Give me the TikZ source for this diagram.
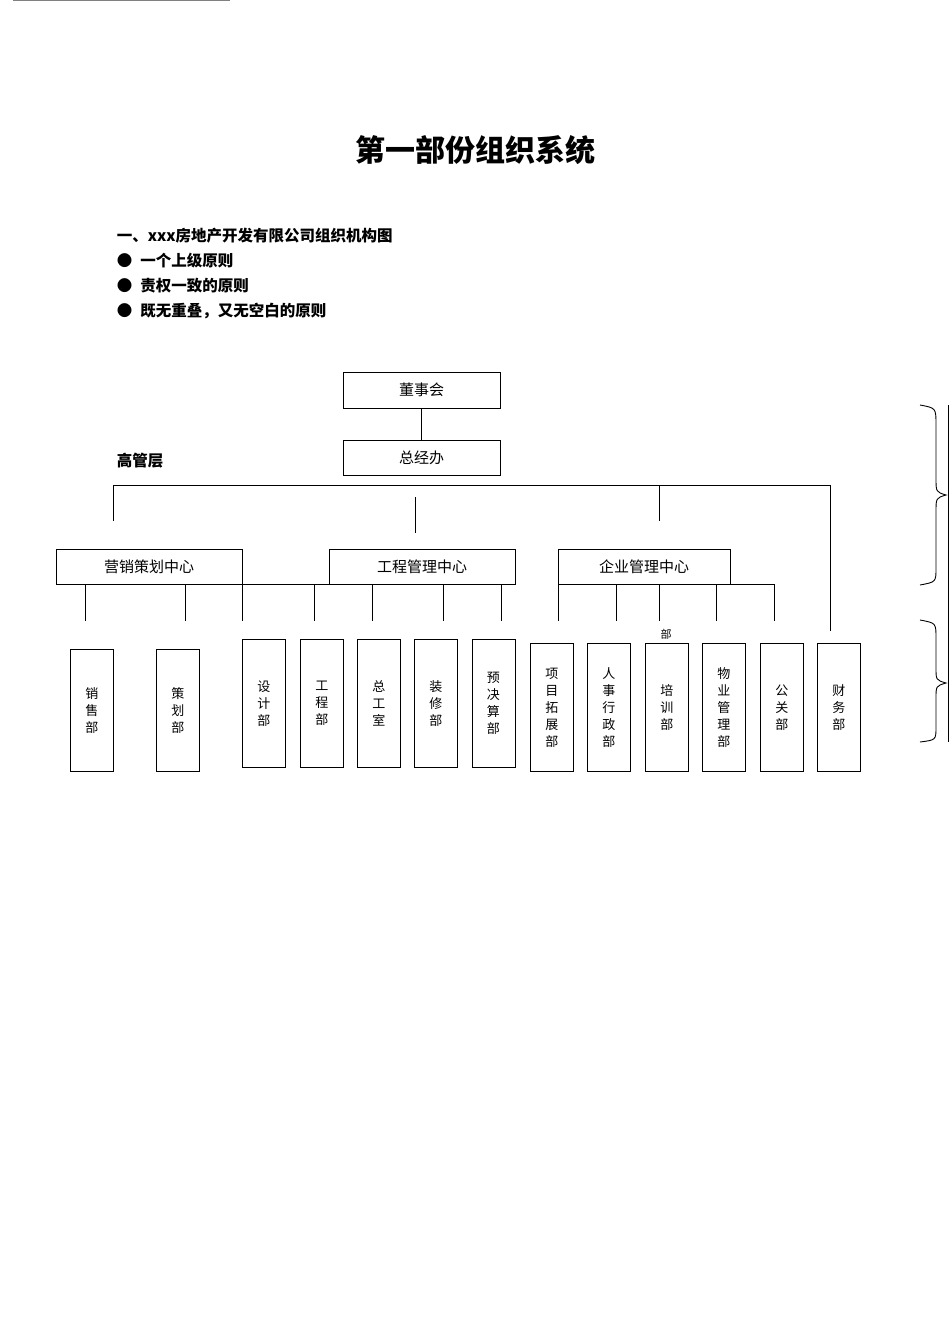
\documentclass[tikz,border=0pt]{standalone}
\usepackage{fontspec}
\newfontfamily\cjk{Noto Sans CJK SC}
\begin{document}
\begin{tikzpicture}[x=1pt,y=-1pt,line width=0.9pt,
 box/.style={draw,minimum width=#1,inner sep=0pt,font=\cjk\fontsize{15}{15}\selectfont},
 vbox/.style={draw,anchor=north west,minimum width=43pt,inner sep=0pt,align=center,font=\cjk\fontsize{13}{17}\selectfont}]
\useasboundingbox (0,0) rectangle (950,1344);
\draw[gray] (13,0.5) -- (230,0.5);
\node[font=\cjk\bfseries\fontsize{30}{30}\selectfont] (title) at (475,150) {第一部份组织系统};
\begin{scope}[every node/.style={anchor=west,font=\cjk\bfseries\fontsize{15.5}{16}\selectfont}]
\node (l0) at (113,236) {一、xxx房地产开发有限公司组织机构图};
\node (l1) at (113,261) {●\hspace{8pt}一个上级原则};
\node (l2) at (113,286) {●\hspace{8pt}责权一致的原则};
\node (l3) at (113,311) {●\hspace{8pt}既无重叠，又无空白的原则};
\node (ggc) at (113,461) {高管层};
\end{scope}
\node[box=157pt,minimum height=36pt] (dsh) at (421.5,390) {董事会};
\node[box=157pt,minimum height=35pt] (zjb) at (421.5,457.5) {总经办};
\draw (dsh) -- (zjb);
\node[box=186pt,minimum height=35pt] (yx) at (149,566.5) {营销策划中心};
\node[box=186pt,minimum height=35pt] (gc) at (422,566.5) {工程管理中心};
\node[box=172pt,minimum height=35pt] (qy) at (644,566.5) {企业管理中心};
\draw (113,521) -- (113,485) -- (830,485) -- (830,631);
\draw (659,485) -- (659,521);
\draw (415,497) -- (415,533);
% bottom boxes
\def\mk#1#2#3#4#5{\node[vbox,minimum height=#4pt] (#1) at (#2,#3) {#5};}
\mk{xs}{70}{649}{122}{销\\售\\部}
\mk{ch}{156}{649}{122}{策\\划\\部}
\mk{sj}{242}{639}{128}{设\\计\\部}
\mk{gcb}{300}{639}{128}{工\\程\\部}
\mk{zgs}{357}{639}{128}{总\\工\\室}
\mk{zx}{414}{639}{128}{装\\修\\部}
\mk{yjs}{471.5}{639}{128}{预\\决\\算\\部}
\mk{xm}{530}{643}{128}{项\\目\\拓\\展\\部}
\mk{rs}{587}{643}{128}{人\\事\\行\\政\\部}
\mk{px}{645}{643}{128}{培\\训\\部}
\mk{wy}{702}{643}{128}{物\\业\\管\\理\\部}
\mk{gg}{760}{643}{128}{公\\关\\部}
\mk{cw}{817}{643}{128}{财\\务\\部}
\node[font=\cjk\fontsize{11}{11}\selectfont] (bu) at (666,634) {部};
% connectors
\draw (85,584) -- (85,621);
\draw (185,584) -- (185,621);
\draw (242,584) -- (501,584);
\foreach \x in {242,314,372,443,501} \draw (\x,584) -- (\x,621);
\draw (558,584) -- (774,584);
\foreach \x in {558,616,659,716,774} \draw (\x,584) -- (\x,621);
% braces
\draw (920,405) .. controls (936,408) .. (936,425) -- (936,478) .. controls (936,492) .. (946,495) .. controls (936,498) .. (936,512) -- (936,568) .. controls (936,582) .. (920,585);
\draw (920,620) .. controls (936,623) .. (936,638) -- (936,668) .. controls (936,680) .. (946,683) .. controls (936,686) .. (936,698) -- (936,727) .. controls (936,740) .. (920,742);
\draw (948,405) -- (948,742);
\end{tikzpicture}
\end{document}
